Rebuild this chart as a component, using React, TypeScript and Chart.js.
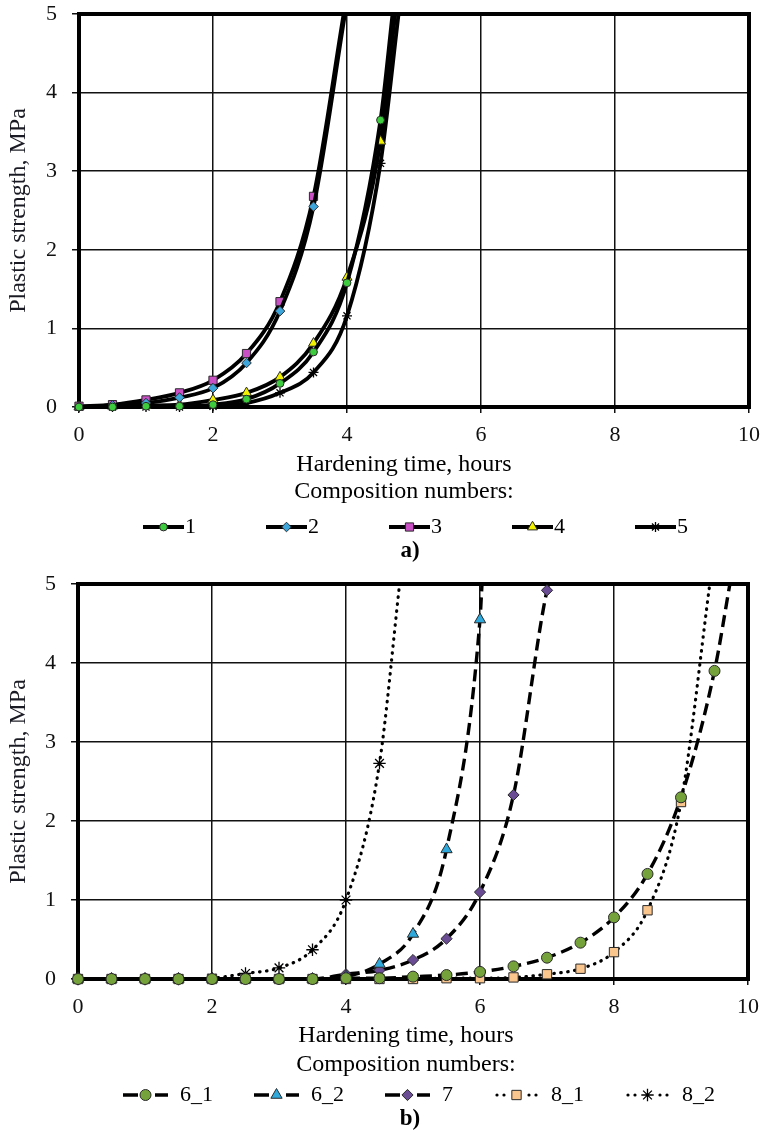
import React, { useEffect, useRef } from 'react';
import { Chart, registerables } from 'chart.js';

Chart.register(...registerables);

const FONT = '"Liberation Serif", "Times New Roman", serif';

// ---------- shared axis ticks ----------
const xTicks = [0, 2, 4, 6, 8, 10];
const yTicks = [0, 1, 2, 3, 4, 5];

// ---------- chart a ----------
const hoursA = [0, 0.5, 1, 1.5, 2, 2.5, 3, 3.5, 4, 4.5];
const compA1 = [0, 0, 0.01, 0.01, 0.03, 0.1, 0.3, 0.7, 1.58, 3.65];
const compA2 = [0, 0.02, 0.05, 0.12, 0.24, 0.56, 1.22, 2.55];
const compA3 = [0.01, 0.03, 0.09, 0.18, 0.34, 0.68, 1.34, 2.68];
const compA4 = [0, 0.01, 0.02, 0.03, 0.09, 0.18, 0.38, 0.81, 1.65, 3.38];
const compA5 = [0, 0, 0, 0, 0.01, 0.05, 0.18, 0.44, 1.16, 3.1];
// hour at which each fitted curve leaves the top of the plot (5 MPa)
const topExitA = [4.68, 3.97, 3.95, 4.72, 4.77];
const labelsA = ['1', '2', '3', '4', '5'];

// ---------- chart b ----------
const hoursB = [0, 0.5, 1, 1.5, 2, 2.5, 3, 3.5, 4, 4.5, 5, 5.5, 6, 6.5, 7, 7.5, 8, 8.5, 9, 9.5];
const compB61 = [0, 0, 0, 0, 0, 0, 0, 0, 0.01, 0.01, 0.03, 0.05, 0.09, 0.16, 0.27, 0.46, 0.78, 1.33, 2.3, 3.9];
const compB62 = [0, 0, 0, 0, 0, 0, 0, 0, 0.03, 0.19, 0.57, 1.64, 4.55];
const compB7 = [0, 0, 0, 0, 0, 0, 0, 0, 0.06, 0.11, 0.24, 0.51, 1.1, 2.33, 4.92];
const compB81 = [0, 0, 0, 0, 0, 0, 0, 0, 0, 0, 0, 0.01, 0.01, 0.02, 0.06, 0.13, 0.34, 0.87, 2.24];
const compB82 = [0, 0, 0, 0, 0.01, 0.07, 0.14, 0.37, 1.0, 2.73];
const topExitB = [9.73, 6.03, 7.03, 9.43, 4.8];
const labelsB = ['6_1', '6_2', '7', '8_1', '8_2'];

// ---------- styles ----------
type SeriesStyle = { point: string; fill: string; radius: number; line: 'solid' | 'dash' | 'dot' };

const stylesA: SeriesStyle[] = [
  { point: 'circle', fill: '#3dcc3d', radius: 3.9, line: 'solid' },
  { point: 'rectRot', fill: '#3fa6dc', radius: 4.8, line: 'solid' },
  { point: 'rect', fill: '#c94fc4', radius: 5.8, line: 'solid' },
  { point: 'triangle', fill: '#f2f200', radius: 5.8, line: 'solid' },
  { point: 'star', fill: '#000000', radius: 5, line: 'solid' },
];

const stylesB: SeriesStyle[] = [
  { point: 'circle', fill: '#75a23a', radius: 5.5, line: 'dash' },
  { point: 'triangle', fill: '#2fa9dc', radius: 6.5, line: 'dash' },
  { point: 'rectRot', fill: '#6a4c94', radius: 5.6, line: 'dash' },
  { point: 'rect', fill: '#fbc58e', radius: 6.6, line: 'dot' },
  { point: 'star', fill: '#000000', radius: 6.2, line: 'dot' },
];

function buildDatasets(hours: number[], series: number[][], exits: number[], labels: string[], styles: SeriesStyle[], yMax: number) {
  return series.map((vals, i) => {
    const st = styles[i];
    const data = vals.map((v, k) => ({ x: hours[k], y: v }));
    data.push({ x: exits[i], y: yMax });
    const radius = data.map((_, k) => (k < vals.length ? st.radius : 0));
    const dash = st.line === 'dash' ? [12, 6] : st.line === 'dot' ? [0.5, 6.5] : [];
    return {
      label: labels[i],
      data,
      showLine: true,
      borderColor: '#000',
      borderWidth: st.line === 'solid' ? 3.8 : st.line === 'dash' ? 3.4 : 3.2,
      borderDash: dash,
      borderCapStyle: st.line === 'dot' ? 'round' : 'butt',
      cubicInterpolationMode: 'monotone',
      fill: false,
      pointStyle: st.point,
      pointRadius: radius,
      pointHoverRadius: radius,
      pointHitRadius: 0,
      pointBackgroundColor: st.fill,
      pointBorderColor: st.point === 'star' ? '#000' : '#2a2a2a',
      pointBorderWidth: st.point === 'star' ? 1.3 : 1,
      clip: { left: 12, top: 0, right: 12, bottom: 12 },
      legendLine: st.line,
      legendFill: st.fill,
      legendPoint: st.point,
      legendRadius: st.radius,
    };
  });
}

function drawMarker(ctx: CanvasRenderingContext2D, style: string, x: number, y: number, r: number, fill: string) {
  ctx.save();
  ctx.fillStyle = fill;
  ctx.strokeStyle = style === 'star' ? '#000' : '#2a2a2a';
  ctx.lineWidth = style === 'star' ? 1.3 : 1;
  ctx.beginPath();
  if (style === 'circle') {
    ctx.arc(x, y, r, 0, Math.PI * 2);
    ctx.fill();
    ctx.stroke();
  } else if (style === 'rect') {
    const s = r * Math.SQRT1_2;
    ctx.rect(x - s, y - s, 2 * s, 2 * s);
    ctx.fill();
    ctx.stroke();
  } else if (style === 'rectRot') {
    ctx.moveTo(x, y - r);
    ctx.lineTo(x + r, y);
    ctx.lineTo(x, y + r);
    ctx.lineTo(x - r, y);
    ctx.closePath();
    ctx.fill();
    ctx.stroke();
  } else if (style === 'triangle') {
    let a = 0;
    ctx.moveTo(x + Math.sin(a) * r, y - Math.cos(a) * r);
    a += (2 * Math.PI) / 3;
    ctx.lineTo(x + Math.sin(a) * r, y - Math.cos(a) * r);
    a += (2 * Math.PI) / 3;
    ctx.lineTo(x + Math.sin(a) * r, y - Math.cos(a) * r);
    ctx.closePath();
    ctx.fill();
    ctx.stroke();
  } else if (style === 'star') {
    for (let k = 0; k < 4; k++) {
      const a = (k * Math.PI) / 4;
      ctx.moveTo(x - Math.cos(a) * r, y - Math.sin(a) * r);
      ctx.lineTo(x + Math.cos(a) * r, y + Math.sin(a) * r);
    }
    ctx.stroke();
  }
  ctx.restore();
}

const framePlugin = {
  id: 'frameBox',
  beforeDatasetsDraw(chart: any) {
    const { ctx, chartArea } = chart;
    ctx.save();
    ctx.strokeStyle = '#000';
    ctx.lineWidth = 4;
    ctx.strokeRect(chartArea.left, chartArea.top, chartArea.right - chartArea.left, chartArea.bottom - chartArea.top);
    ctx.restore();
  },
};

const bottomTextPlugin = {
  id: 'bottomText',
  afterDraw(chart: any, _args: any, opts: any) {
    const ctx: CanvasRenderingContext2D = chart.ctx;
    ctx.save();
    ctx.fillStyle = '#000';
    ctx.textBaseline = 'middle';
    ctx.textAlign = 'center';
    ctx.font = `24px ${FONT}`;
    opts.titleLines.forEach((t: string, i: number) => {
      ctx.fillText(t, opts.titleX, opts.titleYs[i]);
    });

    // legend
    ctx.font = `22px ${FONT}`;
    ctx.textAlign = 'left';
    let x = opts.legendX;
    const y = opts.legendY;
    const lw = opts.legendLineW;
    chart.data.datasets.forEach((ds: any) => {
      ctx.save();
      ctx.strokeStyle = '#000';
      ctx.fillStyle = '#000';
      if (ds.legendLine === 'solid') {
        ctx.lineWidth = 3.8;
        ctx.beginPath();
        ctx.moveTo(x, y);
        ctx.lineTo(x + lw, y);
        ctx.stroke();
      } else if (ds.legendLine === 'dash') {
        ctx.lineWidth = 3.4;
        ctx.beginPath();
        ctx.moveTo(x, y);
        ctx.lineTo(x + 15, y);
        ctx.moveTo(x + lw - 13, y);
        ctx.lineTo(x + lw, y);
        ctx.stroke();
      } else {
        [3, 10, lw - 10, lw - 3].forEach((dx) => {
          ctx.beginPath();
          ctx.arc(x + dx, y, 1.6, 0, Math.PI * 2);
          ctx.fill();
        });
      }
      ctx.restore();
      drawMarker(ctx, ds.legendPoint, x + lw / 2, y, ds.legendRadius, ds.legendFill);
      const tx = x + lw + opts.legendGap;
      ctx.fillStyle = '#000';
      ctx.fillText(ds.label, tx, y);
      x = tx + ctx.measureText(ds.label).width + opts.legendItemGap;
    });

    ctx.font = `bold 23px ${FONT}`;
    ctx.textAlign = 'center';
    ctx.fillText(opts.caption, opts.captionX, opts.captionY);
    ctx.restore();
  },
};

type PanelCfg = {
  datasets: any[];
  padTop: number;
  padRight: number;
  padBottom: number;
  yWidth: number;
  text: any;
};

function Panel({ cfg }: { cfg: PanelCfg }) {
  const ref = useRef<HTMLCanvasElement | null>(null);
  useEffect(() => {
    if (!ref.current) return;
    const tickFont = { family: FONT, size: 22 };
    const chart = new Chart(ref.current, {
      type: 'scatter',
      data: { datasets: cfg.datasets },
      plugins: [framePlugin, bottomTextPlugin],
      options: {
        responsive: false,
        animation: false,
        events: [],
        layout: { padding: { left: 0, top: cfg.padTop, right: cfg.padRight, bottom: cfg.padBottom } },
        plugins: {
          legend: { display: false },
          tooltip: { enabled: false },
          bottomText: cfg.text,
        } as any,
        scales: {
          x: {
            type: 'linear',
            min: xTicks[0],
            max: xTicks[xTicks.length - 1],
            ticks: { stepSize: xTicks[1] - xTicks[0], font: tickFont, color: '#111', padding: 9, maxRotation: 0 },
            grid: { color: '#111', lineWidth: 1.5, tickLength: 6, tickColor: '#111' },
            border: { display: false },
            afterFit: (s: any) => {
              s.height = 40;
              s.paddingLeft = 0;
              s.paddingRight = 0;
            },
          },
          y: {
            type: 'linear',
            min: yTicks[0],
            max: yTicks[yTicks.length - 1],
            ticks: { stepSize: yTicks[1] - yTicks[0], font: tickFont, color: '#111', padding: 15 },
            grid: { color: '#111', lineWidth: 1.5, tickLength: 7, tickColor: '#111' },
            border: { display: false },
            title: {
              display: true,
              text: 'Plastic strength, MPa',
              font: { family: FONT, size: 24 },
              color: '#1a1a24',
              padding: { top: 4, bottom: 0 },
            },
            afterFit: (s: any) => {
              s.width = cfg.yWidth;
              s.paddingTop = 0;
              s.paddingBottom = 0;
            },
          },
        },
      } as any,
    });
    return () => chart.destroy();
  }, [cfg]);
  return <canvas ref={ref} width={763} height={568} style={{ display: 'block', width: 763, height: 568 }} />;
}

const cfgA: PanelCfg = {
  datasets: buildDatasets(hoursA, [compA1, compA2, compA3, compA4, compA5], topExitA, labelsA, stylesA, yTicks[yTicks.length - 1]),
  padTop: 14,
  padRight: 14,
  padBottom: 121,
  yWidth: 79,
  text: {
    titleLines: ['Hardening time, hours', 'Composition numbers:'],
    titleX: 404,
    titleYs: [464.5, 492],
    legendX: 143,
    legendY: 527,
    legendLineW: 41,
    legendGap: 1,
    legendItemGap: 70,
    caption: 'a)',
    captionX: 410,
    captionY: 551,
  },
};

const cfgB: PanelCfg = {
  datasets: buildDatasets(hoursB, [compB61, compB62, compB7, compB81, compB82], topExitB, labelsB, stylesB, yTicks[yTicks.length - 1]),
  padTop: 16,
  padRight: 15,
  padBottom: 117,
  yWidth: 78,
  text: {
    titleLines: ['Hardening time, hours', 'Composition numbers:'],
    titleX: 406,
    titleYs: [468, 496.5],
    legendX: 123,
    legendY: 527,
    legendLineW: 45,
    legendGap: 12,
    legendItemGap: 41,
    caption: 'b)',
    captionX: 410,
    captionY: 551,
  },
};

export default function App() {
  return (
    <div style={{ position: 'absolute', left: 0, top: 0, width: 763, height: 1136, background: '#fff' }}>
      <Panel cfg={cfgA} />
      <Panel cfg={cfgB} />
    </div>
  );
}
